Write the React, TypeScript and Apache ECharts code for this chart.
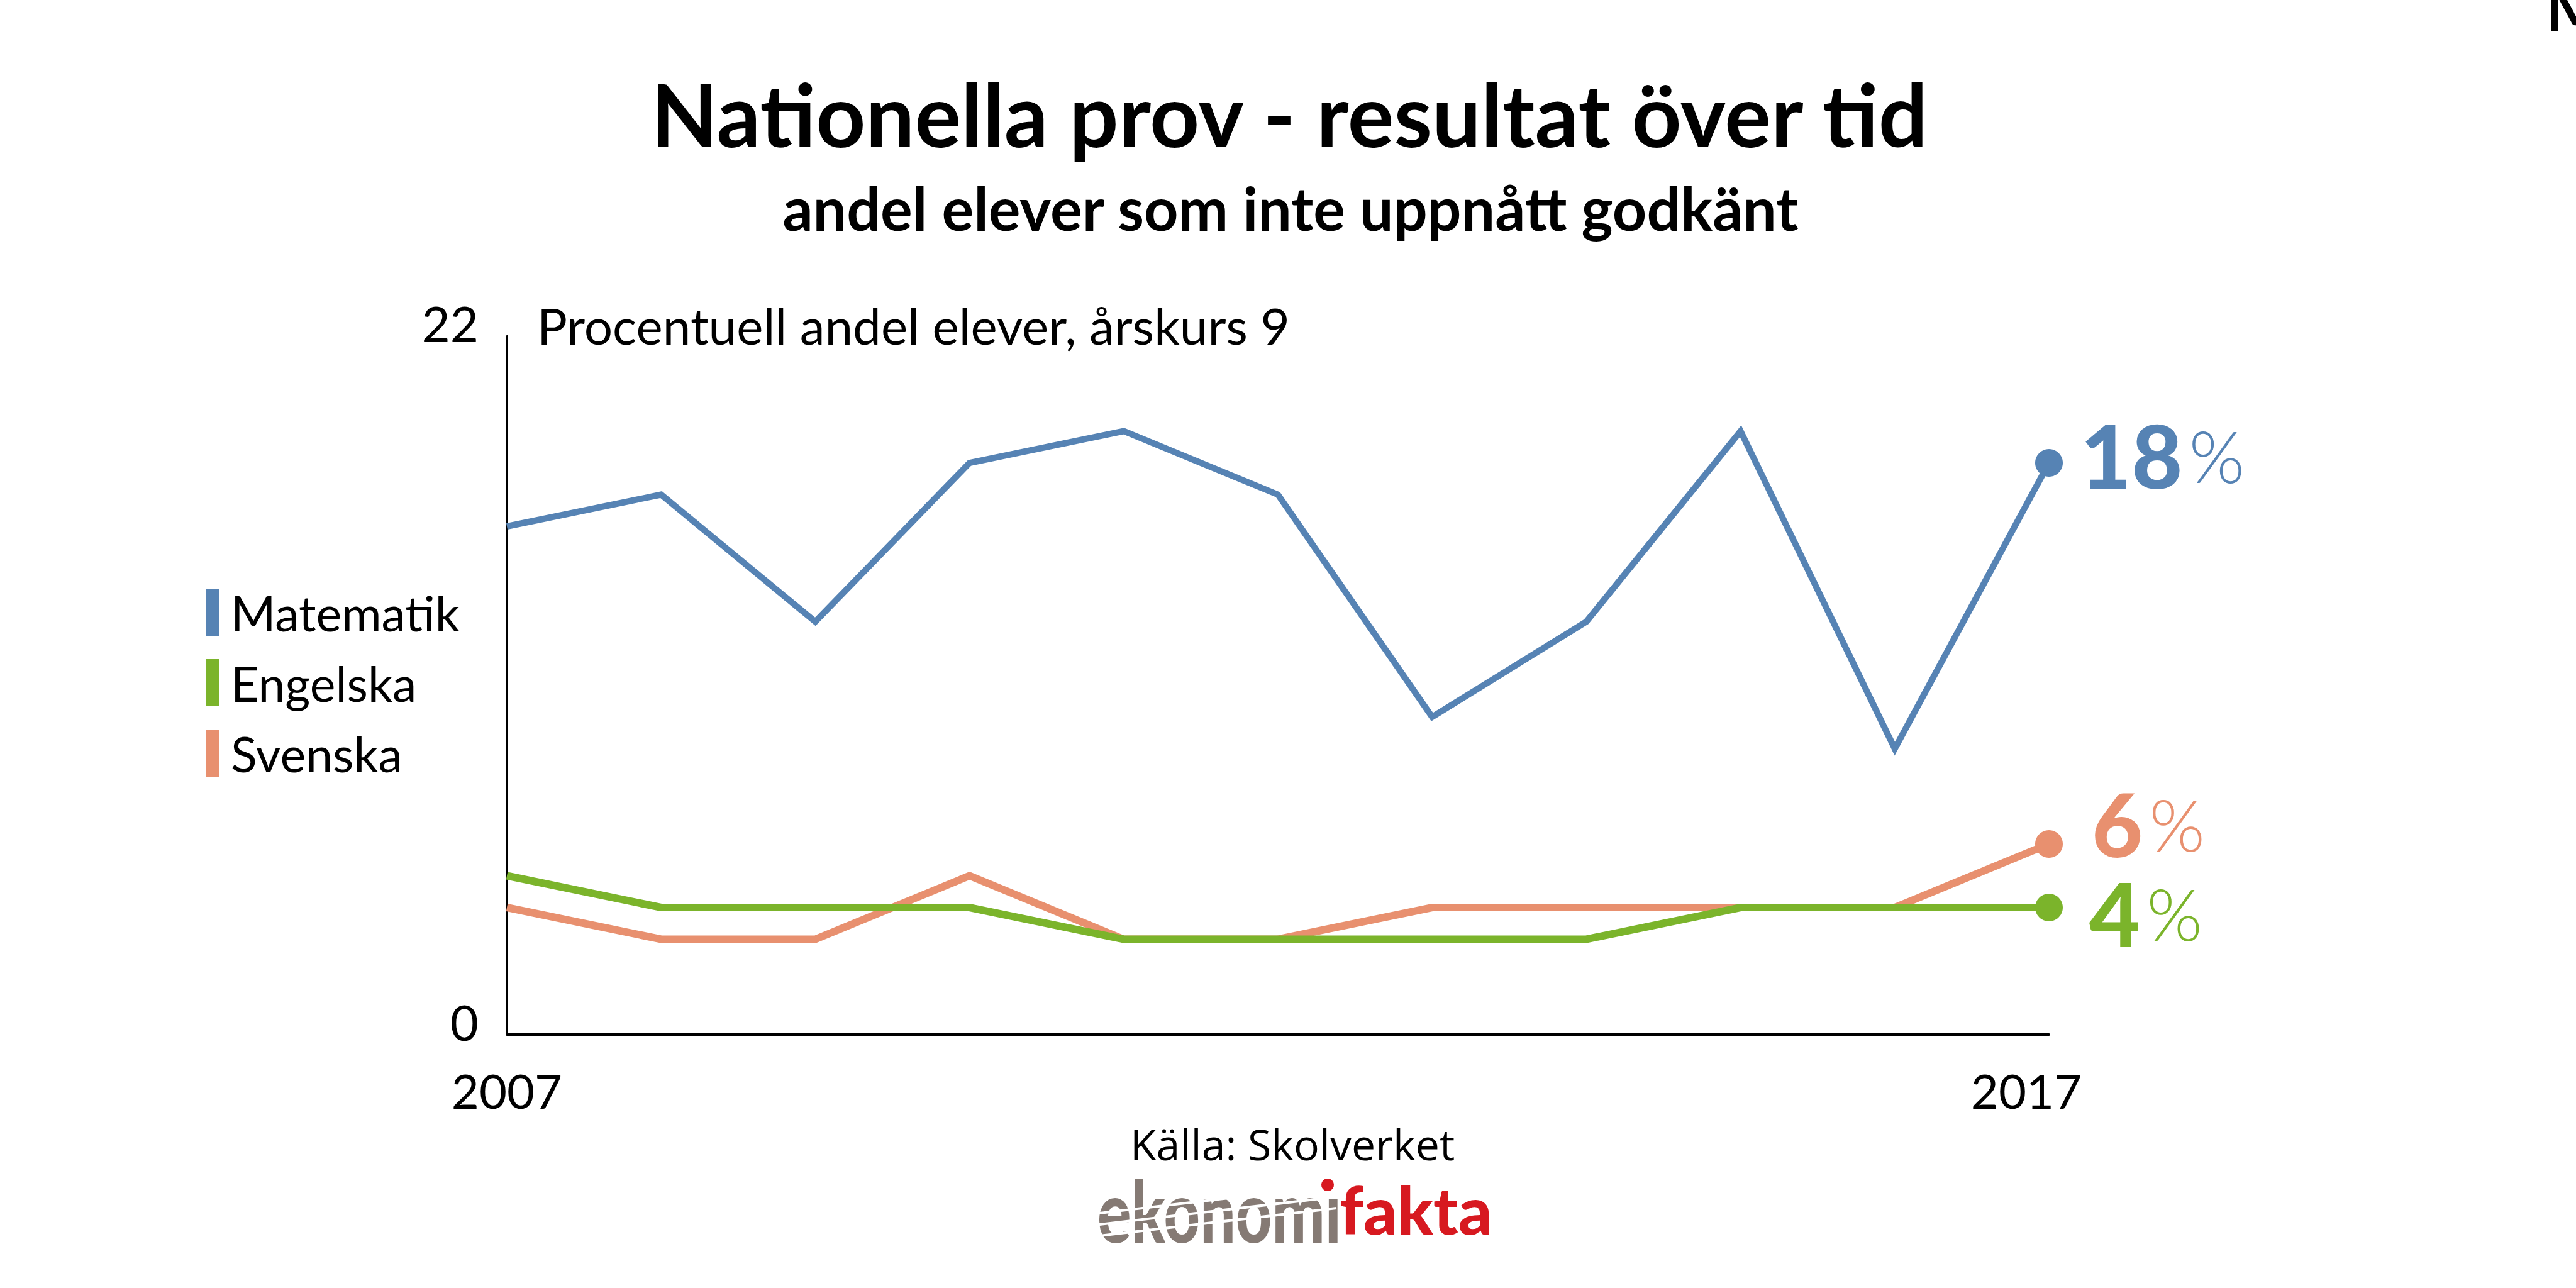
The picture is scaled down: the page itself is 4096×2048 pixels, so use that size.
import React, { useEffect, useRef } from 'react';
import * as echarts from 'echarts';

const years = ['2007', '2008', '2009', '2010', '2011', '2012', '2013', '2014', '2015', '2016', '2017'];
const matematik = [16, 17, 13, 18, 19, 17, 10, 13, 19, 9, 18];
const engelska = [5, 4, 4, 4, 3, 3, 3, 3, 4, 4, 4];
const svenska = [4, 3, 3, 5, 3, 3, 4, 4, 4, 4, 6];
const legendNames = ['Matematik', 'Engelska', 'Svenska'];
const yTicks = [0, 22];

const BLUE = '#5683B4';
const GREEN = '#7BB42B';
const ORANGE = '#E8906F';

function txt(text: string, x: number, y: number, opts: any) {
  return {
    type: 'text',
    x,
    y,
    silent: true,
    scaleX: opts.scaleX ?? 1,
    style: {
      text,
      x: 0,
      y: 0,
      fill: opts.fill ?? '#000',
      fontSize: opts.fontSize,
      fontFamily: opts.fontFamily ?? 'Lato',
      fontWeight: opts.fontWeight ?? 'normal',
      textAlign: opts.align ?? 'left',
      align: opts.align ?? 'left',
      textVerticalAlign: 'middle',
      verticalAlign: 'middle',
    },
  };
}

export default function App() {
  const ref = useRef<HTMLDivElement>(null);

  useEffect(() => {
    document.body.style.margin = '0';
    const chart = echarts.init(ref.current!, null, { renderer: 'svg' });
    const last = years.length - 1;

    const mk = (name: string, data: number[], color: string, width: number, offset: number[]) => ({
      name,
      type: 'line',
      data,
      silent: true,
      symbol: 'circle',
      symbolSize: (_v: any, p: any) => (p.dataIndex === last ? 44 : 0),
      showSymbol: true,
      showAllSymbol: true,
      lineStyle: { color, width, join: 'miter', cap: 'butt' },
      itemStyle: { color },
      emphasis: { disabled: true },
      endLabel: {
        show: true,
        distance: 0,
        offset,
        formatter: (p: any) => `{v|${p.value}}{p|%}`,
        rich: {
          v: { fontSize: 140, fontWeight: 900, fontFamily: 'Lato', color },
          p: { fontSize: 114, fontWeight: 300, fontFamily: 'Lato', color, padding: [0, 0, 0, 10] },
        },
      },
    });

    const stripes = [1930, 1948, 1966].map((y0) => ({
      type: 'line',
      silent: true,
      shape: { x1: 1740, y1: y0, x2: 2125, y2: y0 - 45 },
      style: { stroke: '#fff', lineWidth: 4 },
    }));

    const option: any = {
      animation: false,
      backgroundColor: '#fff',
      grid: { left: 806, top: 534, width: 2452, height: 1111, containLabel: false },
      legend: {
        data: legendNames,
        orient: 'vertical',
        left: 323,
        top: 930,
        icon: 'rect',
        itemWidth: 20,
        itemHeight: 75,
        itemGap: 35,
        selectedMode: false,
        textStyle: { fontSize: 77, fontFamily: 'Lato', color: '#000', lineHeight: 75, padding: [0, 0, 0, 14] },
      },
      xAxis: {
        type: 'category',
        data: years,
        boundaryGap: false,
        axisLine: { lineStyle: { color: '#000', width: 4 } },
        axisTick: { show: false },
        axisLabel: {
          interval: (i: number) => i === 0 || i === last,
          margin: 50,
          formatter: (v: string, i: number) => (i === last ? `{r|${v}}` : `{l|${v}}`),
          rich: {
            l: { fontSize: 76, fontFamily: 'Lato', color: '#000' },
            r: { fontSize: 76, fontFamily: 'Lato', color: '#000', padding: [0, 72, 0, 0] },
          },
        },
        splitLine: { show: false },
      },
      yAxis: {
        type: 'value',
        min: yTicks[0],
        max: yTicks[1],
        interval: yTicks[1] - yTicks[0],
        axisLine: { show: true, lineStyle: { color: '#000', width: 3 } },
        axisTick: { show: false },
        splitLine: { show: false },
        axisLabel: {
          fontSize: 78,
          fontFamily: 'Lato',
          color: '#000',
          margin: 45,
          verticalAlign: 'bottom',
          lineHeight: 40,
        },
      },
      series: [
        mk('Svenska', svenska, ORANGE, 12, [68, -33]),
        mk('Engelska', engelska, GREEN, 12, [64, 8]),
        mk('Matematik', matematik, BLUE, 10, [50, -13]),
      ],
      graphic: [
        txt('Nationella prov - resultat över tid', 2050, 180, { fontSize: 138, fontWeight: 'bold', align: 'center' }),
        txt('andel elever som inte uppnått godkänt', 2052, 330, { fontSize: 95, fontWeight: 'bold', align: 'center' }),
        txt('Procentuell andel elever, årskurs 9', 854, 517, { fontSize: 80 }),
        txt('Källa: Skolverket', 2055, 1818, { fontSize: 68, fontFamily: 'Open Sans', align: 'center' }),
        txt('ekonomı', 1745, 1924, { fontSize: 135, fontWeight: 900, fill: '#857A74', scaleX: 0.74 }),
        ...stripes,
        txt('fakta', 2130, 1922, { fontSize: 105, fontWeight: 900, fill: '#D71920' }),
        { type: 'circle', silent: true, shape: { cx: 2111, cy: 1884, r: 10 }, style: { fill: '#D71920' } },
        txt('M', 4048, 10, { fontSize: 100, fontWeight: 'bold' }),
      ],
    };

    chart.setOption(option);
    return () => chart.dispose();
  }, []);

  return <div ref={ref} style={{ width: 4096, height: 2048 }} />;
}
